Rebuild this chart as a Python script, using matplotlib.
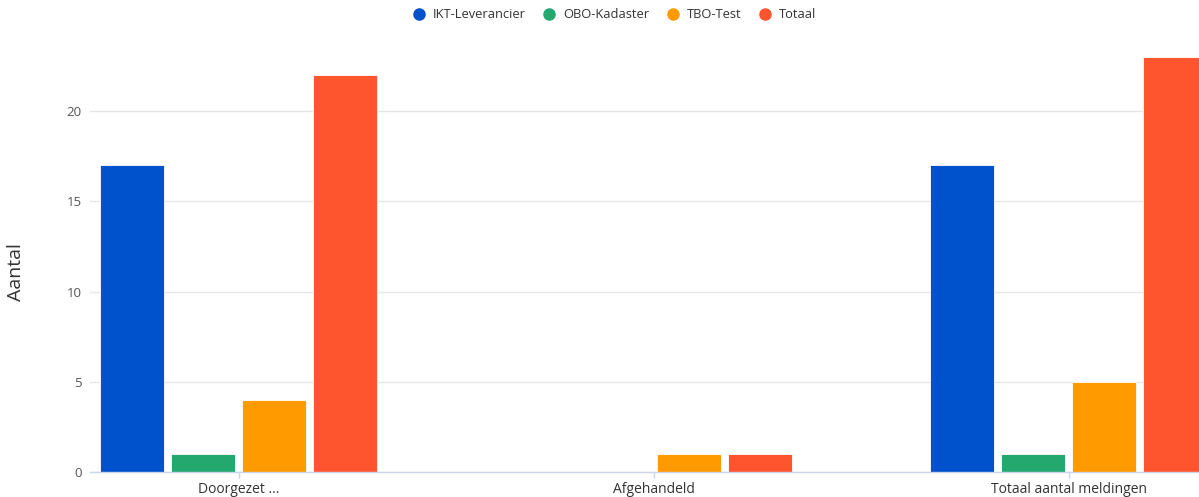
import matplotlib.pyplot as plt
from matplotlib.lines import Line2D
import numpy as np

# --- data ---
categories = ["Doorgezet ...", "Afgehandeld", "Totaal aantal meldingen"]
series_names = ["IKT-Leverancier", "OBO-Kadaster", "TBO-Test", "Totaal"]
ikt = [17, 0, 17]
obo = [1, 0, 1]
tbo = [4, 1, 5]
totaal = [22, 1, 23]
colors = ["#0052cc", "#24a870", "#ff9a00", "#ff552e"]

plt.rcParams['font.family'] = ['Open Sans', 'DejaVu Sans']

fig = plt.figure(figsize=(11.99, 4.97), dpi=100)
W, H = 1199, 497
# plot area in pixels: left 90, bottom 472, top ~39, right runs past the image edge
ax = fig.add_axes([90 / W, (H - 472) / H, (W - 90) / W, (472 - 39) / H])

x = np.arange(len(categories))
step = 0.171
width = 0.153
for i, (vals, name) in enumerate(zip([ikt, obo, tbo, totaal], series_names)):
    ax.bar(x + (i - 1.5) * step, vals, width=width, color=colors[i],
           edgecolor='white', linewidth=0.6, zorder=3)

ax.set_xlim(-0.358, 2.314)
ax.set_ylim(0, 24)
ax.set_yticks([0, 5, 10, 15, 20])
ax.set_xticks(x)
ax.set_xticklabels(categories)

ax.grid(axis='y', color='#e6e6e6', linewidth=1, zorder=0)
for s in ['top', 'right', 'left']:
    ax.spines[s].set_visible(False)
ax.spines['bottom'].set_color('#ccd6eb')
ax.spines['bottom'].set_linewidth(1)
ax.spines['bottom'].set_zorder(4)

ax.tick_params(axis='y', length=0, pad=6, labelsize=9.5, labelcolor='#555555')
ax.tick_params(axis='x', length=4, width=1, color='#ccd6eb', pad=3,
               labelsize=10, labelcolor='#333333')

fig.text(16 / W, 1 - 272 / H, "Aantal", rotation=90, ha='center', va='center',
         fontsize=14, color='#333333')

handles = [Line2D([0], [0], marker='o', linestyle='', markersize=8,
                  markerfacecolor=c, markeredgecolor=c) for c in colors]
fig.legend(handles, series_names, loc='center', bbox_to_anchor=(611 / W, 1 - 15 / H),
           ncol=4, frameon=False, fontsize=9.3, handletextpad=0.1, columnspacing=0.8,
           labelcolor='#333333')

fig.savefig("out.png", dpi=100)
